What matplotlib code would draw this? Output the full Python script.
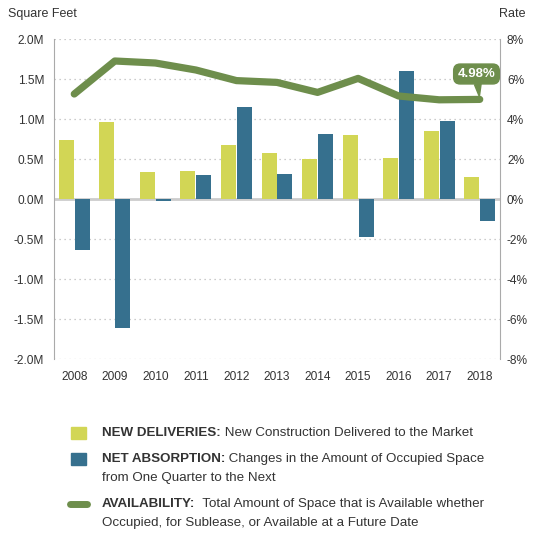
import matplotlib
matplotlib.use("Agg")
import matplotlib.pyplot as plt
import numpy as np
from matplotlib.patches import Rectangle
from matplotlib.lines import Line2D

years = ["2008", "2009", "2010", "2011", "2012", "2013", "2014", "2015", "2016", "2017", "2018"]
new_deliveries = [0.74, 0.96, 0.34, 0.35, 0.675, 0.575, 0.50, 0.80, 0.51, 0.85, 0.275]
net_absorption = [-0.64, -1.61, -0.025, 0.30, 1.15, 0.31, 0.81, -0.475, 1.60, 0.975, -0.275]
availability = [5.25, 6.9, 6.8, 6.45, 5.92, 5.83, 5.33, 6.03, 5.15, 4.96, 4.98]
left_ticks = [-2.0, -1.5, -1.0, -0.5, 0.0, 0.5, 1.0, 1.5, 2.0]
right_ticks = [-8, -6, -4, -2, 0, 2, 4, 6, 8]

ND_COLOR = "#D2D655"
NA_COLOR = "#36708E"
LINE_COLOR = "#6E8E4C"
TEXT = "#333333"
FONT = ["Liberation Sans", "DejaVu Sans"]
plt.rcParams["font.family"] = FONT

W, H = 533, 533
fig = plt.figure(figsize=(W / 100, H / 100), dpi=100)
L, R, T, B = 54, 500, 39, 359
ax = fig.add_axes([L / W, 1 - B / H, (R - L) / W, (B - T) / H])
ax2 = ax.twinx()

x = np.arange(len(years))
bw = 0.37
ax.bar(x - bw / 2 - 0.012, new_deliveries, width=bw, color=ND_COLOR, zorder=3)
ax.bar(x + bw / 2 + 0.012, net_absorption, width=bw, color=NA_COLOR, zorder=3)

ax.set_xlim(-0.5, len(years) - 0.5)
ax.set_ylim(-2.0, 2.0)
ax.set_yticks(left_ticks)
ax.set_yticklabels([f"{v:.1f}M" for v in left_ticks])
ax.set_xticks(x)
ax.set_xticklabels(years)
for v in left_ticks:
    if v == 0:
        ax.axhline(v, color="#cccccc", lw=2, zorder=2)
    else:
        ax.axhline(v, color="#bbbbbb", lw=0.9, ls=(0, (1, 3)), zorder=1)

ax2.set_ylim(-8, 8)
ax2.set_yticks(right_ticks)
ax2.set_yticklabels([f"{v}%" for v in right_ticks])
ax2.plot(x, availability, color=LINE_COLOR, lw=5.2, solid_capstyle="round",
         solid_joinstyle="round", zorder=5)

for a in (ax, ax2):
    a.tick_params(axis="both", length=0, labelsize=8.6, colors=TEXT)
    for s in ("top", "bottom"):
        a.spines[s].set_visible(False)
    a.spines["left"].set_color("#aaaaaa")
    a.spines["right"].set_color("#aaaaaa")
    a.set_facecolor("none")
ax.spines["right"].set_visible(False)
ax2.spines["left"].set_visible(False)
ax.tick_params(axis="y", pad=7)
ax2.tick_params(axis="y", pad=5)
ax.tick_params(axis="x", pad=9)

ax2.annotate(f"{availability[-1]:.2f}%", xy=(x[-1], availability[-1]),
             xytext=(x[-1] - 0.08, 6.25), ha="center", va="center",
             color="white", fontsize=9.5, fontweight="bold",
             bbox=dict(boxstyle="round,pad=0.3,rounding_size=0.5", fc=LINE_COLOR, ec=LINE_COLOR),
             arrowprops=dict(arrowstyle="wedge,tail_width=0.5,shrink_factor=0.5", color=LINE_COLOR,
                             shrinkA=0, shrinkB=2),
             zorder=6)

fig.text(8 / W, 1 - 14 / H, "Square Feet", fontsize=9, color=TEXT, ha="left", va="center")
fig.text(525 / W, 1 - 14 / H, "Rate", fontsize=9, color=TEXT, ha="right", va="center")

# legend
legend_rows = [
    ("patch", ND_COLOR, 433, "NEW DELIVERIES:", " New Construction Delivered to the Market", None),
    ("patch", NA_COLOR, 459, "NET ABSORPTION:", " Changes in the Amount of Occupied Space",
     "from One Quarter to the Next"),
    ("line", LINE_COLOR, 504, "AVAILABILITY:", "  Total Amount of Space that is Available whether",
     "Occupied, for Sublease, or Available at a Future Date"),
]
fig.canvas.draw()
renderer = fig.canvas.get_renderer()
tx = 102
fs = 9.6
for kind, col, yy, bold, normal, second in legend_rows:
    if kind == "patch":
        fig.patches.append(Rectangle(((71) / W, 1 - (yy + 6) / H), 15 / W, 12 / H,
                                     transform=fig.transFigure, color=col, figure=fig))
    else:
        fig.lines.append(Line2D([70 / W, 87 / W], [1 - yy / H, 1 - yy / H], color=col, lw=5,
                                solid_capstyle="round", transform=fig.transFigure, figure=fig))
    t = fig.text(tx / W, 1 - yy / H, bold, fontsize=fs, fontweight="bold", color=TEXT,
                 ha="left", va="center")
    bb = t.get_window_extent(renderer)
    fig.text(bb.x1 / W, 1 - yy / H, normal, fontsize=fs, color=TEXT, ha="left", va="center")
    if second:
        fig.text(tx / W, 1 - (yy + 19) / H, second, fontsize=fs, color=TEXT, ha="left", va="center")

fig.savefig("out.png", dpi=100)
